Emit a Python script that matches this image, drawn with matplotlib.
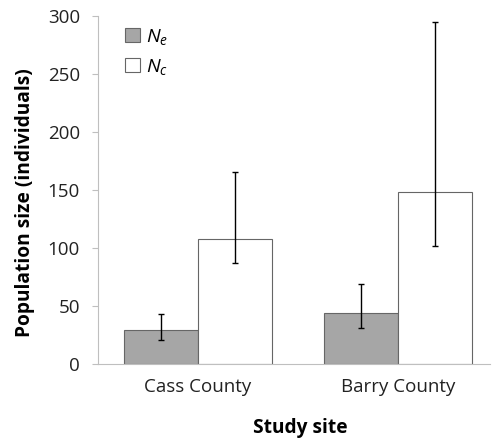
import numpy as np
import matplotlib
matplotlib.use("Agg")
import matplotlib.pyplot as plt

sites = ["Cass County", "Barry County"]
ne_vals = [29, 44]
ne_low = [21, 31]
ne_high = [43, 69]
nc_vals = [108, 148]
nc_low = [87, 102]
nc_high = [165, 295]

plt.rcParams["font.family"] = ["Open Sans", "DejaVu Sans"]
plt.rcParams["mathtext.fontset"] = "custom"
plt.rcParams["mathtext.it"] = "Open Sans:italic"
plt.rcParams["mathtext.rm"] = "Open Sans"

fig = plt.figure(figsize=(4.92, 4.4), dpi=100)
ax = fig.add_axes([0.199, 0.173, 0.797, 0.791])

x = np.arange(len(sites))
w = 0.37
ne_err = [np.array(ne_vals) - np.array(ne_low), np.array(ne_high) - np.array(ne_vals)]
nc_err = [np.array(nc_vals) - np.array(nc_low), np.array(nc_high) - np.array(nc_vals)]

ax.bar(x - w / 2, ne_vals, w, color="#a6a6a6", edgecolor="#666666", linewidth=0.8,
       yerr=ne_err, error_kw=dict(ecolor="black", elinewidth=1, capsize=2, capthick=1),
       label="$N_e$")
ax.bar(x + w / 2, nc_vals, w, color="white", edgecolor="#666666", linewidth=0.8,
       yerr=nc_err, error_kw=dict(ecolor="black", elinewidth=1, capsize=2, capthick=1),
       label="$N_c$")

ax.set_xlim(-0.5, 1.46)
ax.set_ylim(0, 300)
ax.set_yticks(range(0, 301, 50))
ax.set_xticks(x)
ax.set_xticklabels(sites)
ax.tick_params(axis="x", length=0, labelsize=13.5, pad=10, labelcolor="#222222")
ax.tick_params(axis="y", length=4, color="#bfbfbf", labelsize=13.5, pad=9, labelcolor="#222222")
for s in ["top", "right"]:
    ax.spines[s].set_visible(False)
for s in ["left", "bottom"]:
    ax.spines[s].set_color("#bfbfbf")

ax.set_ylabel("Population size (individuals)", fontsize=13.8, fontweight="bold")
ax.yaxis.label.set_va("center")
ax.yaxis.set_label_coords(-0.186, 0.464)
ax.set_xlabel("Study site", fontsize=13.8, fontweight="bold")
ax.xaxis.label.set_va("center")
ax.xaxis.set_label_coords(0.515, -0.184)

ax.legend(loc="upper left", bbox_to_anchor=(0.05, 0.99), borderaxespad=0, frameon=False,
          fontsize=14, handlelength=0.75, handleheight=0.75, handletextpad=0.3,
          labelspacing=0.5)

fig.savefig("out.png", dpi=100)
